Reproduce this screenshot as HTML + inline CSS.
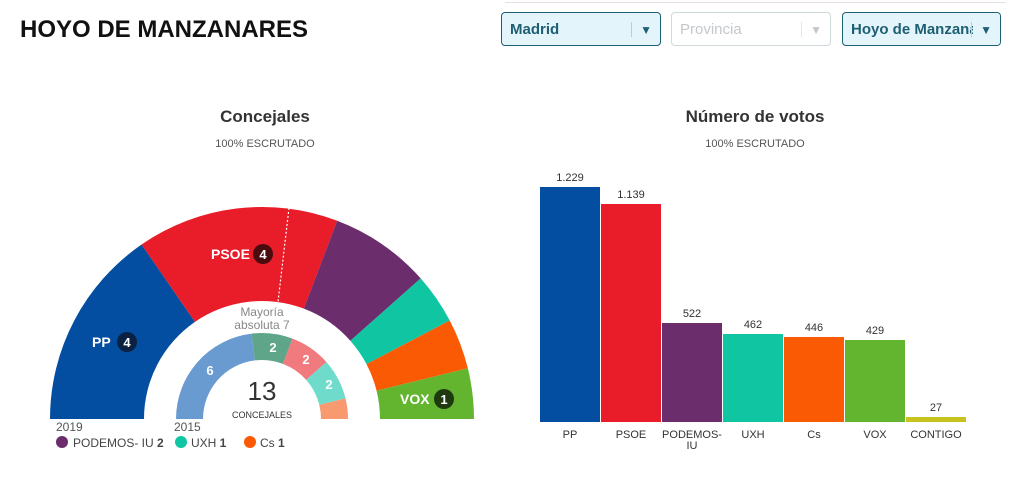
<!DOCTYPE html>
<html><head><meta charset="utf-8"><style>
body{margin:0;width:1016px;height:492px;background:#fff;font-family:"Liberation Sans",sans-serif;overflow:hidden;position:relative}
.sel{position:absolute;top:12px;height:34px;border:1px solid #1f5f73;border-radius:4px;background:#e3f5fb;box-sizing:border-box;font-size:15px;font-weight:bold;color:#1f5f73;line-height:34px;padding-left:8px}
.sel .ar{position:absolute;right:8px;top:0;font-size:12px}
.sel .bar{position:absolute;right:28px;top:9px;width:1px;height:15px;background:#b9d0d6}
</style></head><body>
<div style="position:absolute;left:505px;right:10px;top:2px;height:1px;background:#e8e0dc"></div>
<div style="position:absolute;left:20px;top:16px;font-size:24px;font-weight:bold;color:#111">HOYO DE MANZANARES</div>
<div class="sel" style="left:501px;width:160px">Madrid<span class="bar"></span><span class="ar">▼</span></div>
<div class="sel" style="left:671px;width:160px;background:#fff;border-color:#cfd8db;color:#c4c8ca;font-weight:normal">Provincia<span class="bar" style="background:#e4e4e4"></span><span class="ar">▼</span></div>
<div class="sel" style="left:842px;width:159px;overflow:hidden;white-space:nowrap">Hoyo de Manzanares<span style="position:absolute;right:0;top:0;width:27px;height:32px;background:#e3f5fb"></span><span class="bar"></span><span class="ar">▼</span></div>
<svg width="1016" height="492" style="position:absolute;left:0;top:0" font-family="Liberation Sans, sans-serif">
<text x="265" y="122" text-anchor="middle" font-size="17" font-weight="bold" fill="#333">Concejales</text>
<text x="265" y="147" text-anchor="middle" font-size="11" fill="#555">100% ESCRUTADO</text>
<text x="755" y="122" text-anchor="middle" font-size="17" font-weight="bold" fill="#333">Número de votos</text>
<text x="755" y="147" text-anchor="middle" font-size="11" fill="#555">100% ESCRUTADO</text>
<g id="outer"></g><g id="inner"></g>
<line x1="289" y1="208" x2="278" y2="302" stroke="#fff" stroke-width="1.2" stroke-dasharray="2,2"/>
<text x="262" y="316" text-anchor="middle" font-size="12" fill="#888">Mayoría</text>
<text x="262" y="329" text-anchor="middle" font-size="12" fill="#888">absoluta 7</text>
<text x="262" y="400" text-anchor="middle" font-size="26" fill="#333">13</text>
<text x="262" y="418" text-anchor="middle" font-size="9" fill="#333">CONCEJALES</text>
<text x="210" y="375" text-anchor="middle" font-size="13" font-weight="bold" fill="#fff">6</text>
<text x="273" y="352" text-anchor="middle" font-size="13" font-weight="bold" fill="#fff">2</text>
<text x="306" y="364" text-anchor="middle" font-size="13" font-weight="bold" fill="#fff">2</text>
<text x="329" y="389" text-anchor="middle" font-size="13" font-weight="bold" fill="#fff">2</text>
<text x="92" y="347" font-size="14" font-weight="bold" fill="#fff">PP</text>
<circle cx="127" cy="342" r="10" fill="#0b2142"/><text x="127" y="347" text-anchor="middle" font-size="13" font-weight="bold" fill="#fff">4</text>
<text x="211" y="259" font-size="14" font-weight="bold" fill="#fff">PSOE</text>
<circle cx="263" cy="254" r="10" fill="#4a0c0f"/><text x="263" y="259" text-anchor="middle" font-size="13" font-weight="bold" fill="#fff">4</text>
<text x="400" y="404" font-size="14" font-weight="bold" fill="#fff">VOX</text>
<circle cx="444" cy="399" r="10" fill="#1e3a0e"/><text x="444" y="404" text-anchor="middle" font-size="13" font-weight="bold" fill="#fff">1</text>
<text x="56" y="431" font-size="12" fill="#555">2019</text>
<text x="174" y="431" font-size="12" fill="#555">2015</text>
<circle cx="62" cy="442" r="6" fill="#6b2d6c"/><text x="73" y="447" font-size="12" fill="#444">PODEMOS- IU <tspan font-weight="bold">2</tspan></text>
<circle cx="181" cy="442" r="6" fill="#10c6a2"/><text x="191" y="447" font-size="12" fill="#444">UXH <tspan font-weight="bold">1</tspan></text>
<circle cx="250" cy="442" r="6" fill="#fb5a05"/><text x="260" y="447" font-size="12" fill="#444">Cs <tspan font-weight="bold">1</tspan></text>
<g font-size="11" fill="#333" text-anchor="middle">
<rect x="540" y="187" width="60" height="235" fill="#034ea0"/><text x="570" y="181">1.229</text><text x="570" y="438">PP</text>
<rect x="601" y="204" width="60" height="218" fill="#e91c29"/><text x="631" y="198">1.139</text><text x="631" y="438">PSOE</text>
<rect x="662" y="323" width="60" height="99" fill="#6b2d6c"/><text x="692" y="317">522</text><text x="692" y="438">PODEMOS-</text><text x="692" y="449">IU</text>
<rect x="723" y="334" width="60" height="88" fill="#10c6a2"/><text x="753" y="328">462</text><text x="753" y="438">UXH</text>
<rect x="784" y="337" width="60" height="85" fill="#fb5a05"/><text x="814" y="331">446</text><text x="814" y="438">Cs</text>
<rect x="845" y="340" width="60" height="82" fill="#63b42e"/><text x="875" y="334">429</text><text x="875" y="438">VOX</text>
<rect x="906" y="417" width="60" height="5" fill="#c8c21e"/><text x="936" y="411">27</text><text x="936" y="438">CONTIGO</text>
</g>
</svg>
<script>
function arc(cx,cy,r0,r1,a0,a1,col){
 const p=a=>[Math.cos(Math.PI-a*Math.PI/180),Math.sin(Math.PI-a*Math.PI/180)];
 const [c0,s0]=p(a0),[c1,s1]=p(a1);
 return `<path d="M${cx+r1*c0},${cy-r1*s0} A${r1},${r1} 0 0 1 ${cx+r1*c1},${cy-r1*s1} L${cx+r0*c1},${cy-r0*s1} A${r0},${r0} 0 0 0 ${cx+r0*c0},${cy-r0*s0}Z" fill="${col}"/>`;
}
const u=180/13;let a=0,h='';
[[4,'#034ea0'],[4,'#e91c29'],[2,'#6b2d6c'],[1,'#10c6a2'],[1,'#fb5a05'],[1,'#63b42e']].forEach(([n,c])=>{h+=arc(262,419,118,212,a,a+n*u,c);a+=n*u;});
document.getElementById('outer').innerHTML=h;
a=0;h='';
[[6,'#6a9bd0'],[2,'#5ea58a'],[2,'#f07a7e'],[2,'#6fdccb'],[1,'#f89a70']].forEach(([n,c])=>{h+=arc(262,419,59,86,a,a+n*u,c);a+=n*u;});
document.getElementById('inner').innerHTML=h;
</script>
</body></html>
